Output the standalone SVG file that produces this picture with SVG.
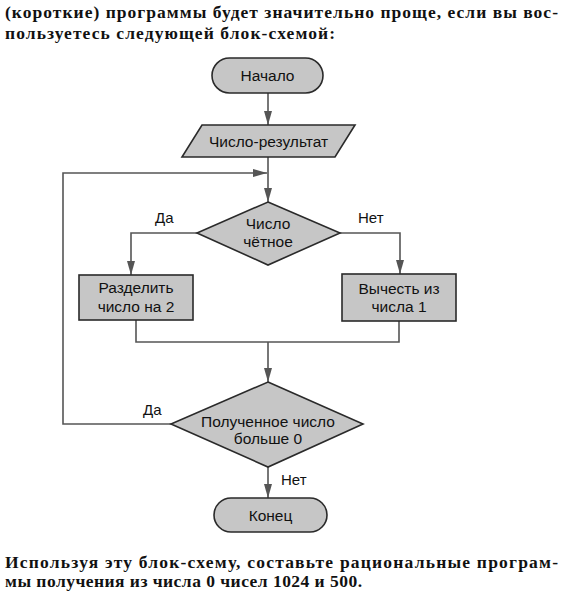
<svg xmlns="http://www.w3.org/2000/svg" width="564" height="594" viewBox="0 0 564 594">
<style>
.shape{fill:#c6c6c6;stroke:#2a2a2a;stroke-width:1.6}
.lbl{font-family:"Liberation Sans",Arial,sans-serif;font-size:15.5px;fill:#111;text-anchor:middle}
.edge{fill:none;stroke:#555;stroke-width:1.6}
.elbl{font-family:"Liberation Sans",Arial,sans-serif;font-size:15px;fill:#111}
.body{font-family:"Liberation Serif","Times New Roman",serif;font-size:17.5px;font-weight:bold;fill:#111}
</style>
<defs>
<marker id="arr" viewBox="0 0 14 8" refX="14" refY="4" markerWidth="14" markerHeight="8" markerUnits="userSpaceOnUse" orient="auto">
<path d="M0,0 L14,4 L0,8 z" fill="#555"/>
</marker>
</defs>
<rect width="564" height="594" fill="#fff"/>
<text class="body" x="5" y="18" textLength="553" lengthAdjust="spacing">(короткие) программы будет значительно проще, если вы вос-</text>
<text class="body" x="5" y="39" textLength="330" lengthAdjust="spacing">пользуетесь следующей блок-схемой:</text>

<g id="connectors">
<path class="edge" d="M268,93 V125" marker-end="url(#arr)"/>
<path class="edge" d="M268,157 V202" marker-end="url(#arr)"/>
<path class="edge" d="M197,233 H131 V275" marker-end="url(#arr)"/>
<path class="edge" d="M340,233 H400 V274" marker-end="url(#arr)"/>
<path class="edge" d="M136,320 V342 H399 V321"/>
<path class="edge" d="M268,342 V382" marker-end="url(#arr)"/>
<path class="edge" d="M171,424 H63 V173 H267" marker-end="url(#arr)"/>
<path class="edge" d="M268,467 V498" marker-end="url(#arr)"/>
<text class="elbl" x="155" y="223">Да</text>
<text class="elbl" x="358" y="223">Нет</text>
<text class="elbl" x="143" y="415">Да</text>
<text class="elbl" x="281" y="485">Нет</text>
</g>

<g id="start">
<rect class="shape" x="212" y="58" width="111" height="35" rx="17.5"/>
<text class="lbl" x="267.5" y="81">Начало</text>
</g>
<g id="input">
<polygon class="shape" points="202,125 355,125 335,157 182,157"/>
<text class="lbl" x="268.5" y="147">Число-результат</text>
</g>
<g id="even">
<polygon class="shape" points="268,202 340,233 268,265 197,233"/>
<text class="lbl" x="268" y="229">Число</text>
<text class="lbl" x="268" y="247">чётное</text>
</g>
<g id="divide">
<rect class="shape" x="79" y="275" width="114" height="45"/>
<text class="lbl" x="136" y="293">Разделить</text>
<text class="lbl" x="136" y="312">число на 2</text>
</g>
<g id="subtract">
<rect class="shape" x="342" y="274" width="114" height="47"/>
<text class="lbl" x="399" y="294">Вычесть из</text>
<text class="lbl" x="399" y="312">числа 1</text>
</g>
<g id="check">
<polygon class="shape" points="268,382 363,424 268,467 171,424"/>
<text class="lbl" x="268" y="427">Полученное число</text>
<text class="lbl" x="268" y="444">больше 0</text>
</g>
<g id="end">
<rect class="shape" x="214" y="498" width="113" height="34" rx="17"/>
<text class="lbl" x="270.5" y="521">Конец</text>
</g>

<text class="body" x="5" y="568" textLength="553" lengthAdjust="spacing">Используя эту блок-схему, составьте рациональные програм-</text>
<text class="body" x="5" y="587" textLength="357" lengthAdjust="spacing">мы получения из числа 0 чисел 1024 и 500.</text>
</svg>
